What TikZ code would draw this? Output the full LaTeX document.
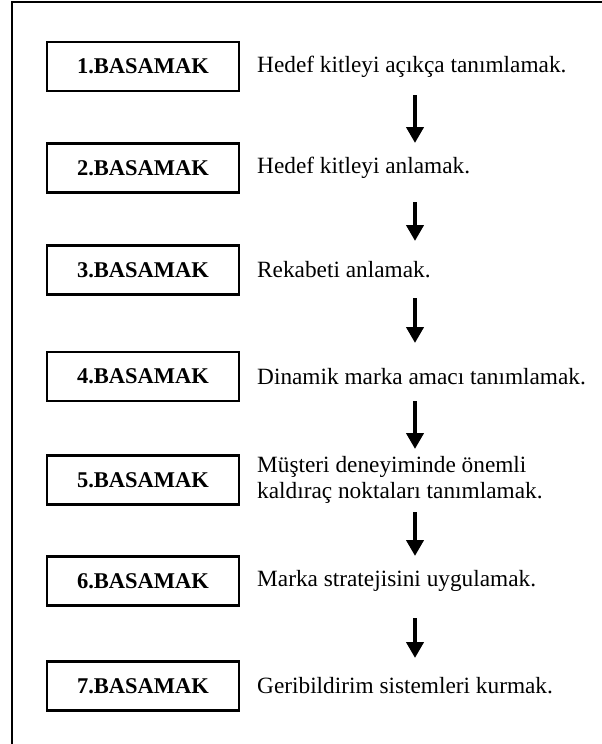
\documentclass[tikz,border=0pt]{standalone}
\usepackage{fontspec}
\setmainfont{Liberation Serif}
\usetikzlibrary{arrows.meta}
\begin{document}
\begin{tikzpicture}[x=1pt,y=-1pt,
  stepbox/.style={draw,line width=2.4pt,minimum width=192pt,minimum height=49pt,inner sep=0pt,
    font=\fontsize{22.5}{26}\selectfont\bfseries},
  desc/.style={anchor=west,inner sep=0pt,font=\fontsize{23.3}{26.5}\selectfont,align=left},
  arr/.style={line width=4pt,-{Triangle[width=17pt,length=16pt]}},
  frame/.style={line width=2.4pt}]
\useasboundingbox (0,0) rectangle (602,744);
\draw[frame] (12,2) rectangle (606,748);
% boxes
\node[stepbox] (b1) at (143,66.5) {1.BASAMAK};
\node[stepbox] (b2) at (143,168) {2.BASAMAK};
\node[stepbox] (b3) at (143,270) {3.BASAMAK};
\node[stepbox] (b4) at (143,376.5) {4.BASAMAK};
\node[stepbox] (b5) at (143,480) {5.BASAMAK};
\node[stepbox] (b6) at (143,581) {6.BASAMAK};
\node[stepbox] (b7) at (143,686) {7.BASAMAK};
% descriptions
\node[desc] (t1) at (257,66.5) {Hedef kitleyi açıkça tanımlamak.};
\node[desc] (t2) at (257,168) {Hedef kitleyi anlamak.};
\node[desc] (t3) at (257,270) {Rekabeti anlamak.};
\node[desc] (t4) at (257,376.5) {Dinamik marka amacı tanımlamak.};
\node[desc] (t5) at (257,480) {Müşteri deneyiminde önemli\\kaldıraç noktaları tanımlamak.};
\node[desc] (t6) at (257,581) {Marka stratejisini uygulamak.};
\node[desc] (t7) at (257,686) {Geribildirim sistemleri kurmak.};
% arrow end points
\coordinate (a1s) at (415,95);  \coordinate (a1e) at (415,143);
\coordinate (a2s) at (415,202); \coordinate (a2e) at (415,241);
\coordinate (a3s) at (415,298); \coordinate (a3e) at (415,343);
\coordinate (a4s) at (415,401); \coordinate (a4e) at (415,449);
\coordinate (a5s) at (415,512); \coordinate (a5e) at (415,556);
\coordinate (a6s) at (415,618); \coordinate (a6e) at (415,658);
\draw[arr] (a1s) -- (a1e);
\draw[arr] (a2s) -- (a2e);
\draw[arr] (a3s) -- (a3e);
\draw[arr] (a4s) -- (a4e);
\draw[arr] (a5s) -- (a5e);
\draw[arr] (a6s) -- (a6e);
\end{tikzpicture}
\end{document}
